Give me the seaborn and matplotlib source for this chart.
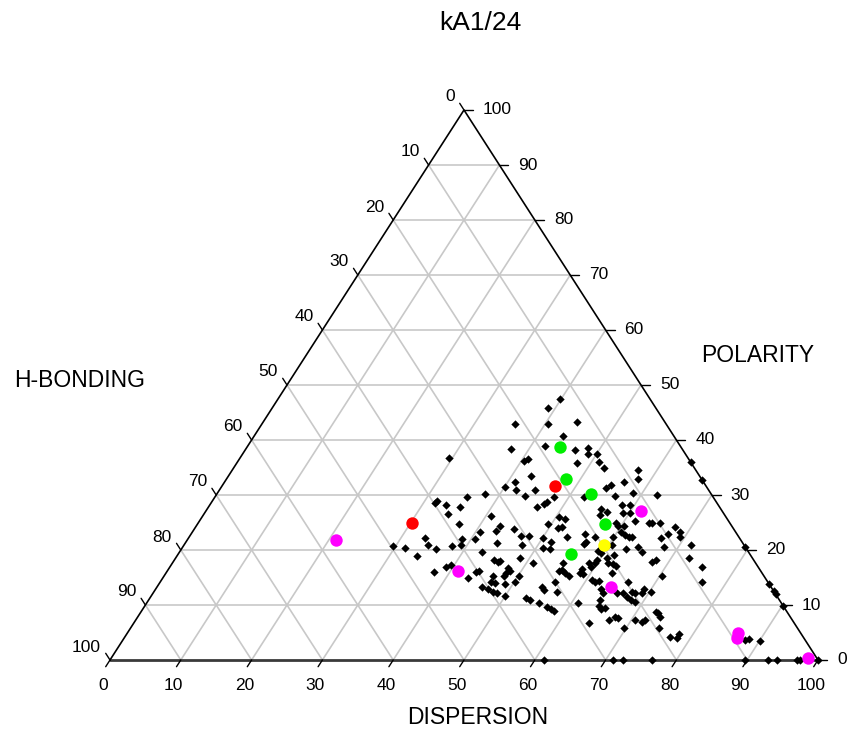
import matplotlib
matplotlib.use("Agg")
import matplotlib.pyplot as plt
import numpy as np
import pandas as pd
import seaborn as sns

sns.set_style("white")
plt.rcParams["font.family"] = ["Liberation Sans", "DejaVu Sans"]
plt.rcParams["text.color"] = "black"

TITLE = "kA1/24"
BOTTOM_NAME = "DISPERSION"
RIGHT_NAME = "POLARITY"
LEFT_NAME = "H-BONDING"
TICKS = list(range(0, 101, 10))

# black samples: dispersion / polarity (h-bonding = 100 - d - p)
black_d = [35.7, 37.5, 29.5, 40.4, 40.8, 42.7, 41.0, 40.1, 41.9, 43.7, 37.9, 35.6, 31.7, 31.6,
           33.3, 35.5, 34.5, 40.7, 36.9, 42.9, 42.8, 45.2, 46.8, 47.9, 40.7, 40.5, 44.1, 47.7,
           38.7, 39.1, 37.9, 36.0, 34.4, 33.4, 31.5, 29.6, 33.9, 37.7, 38.9, 39.5, 43.0, 43.7,
           44.1, 42.7, 45.1, 45.8, 46.1, 47.8, 48.5, 48.1, 48.1, 50.1, 50.2, 46.5, 46.7, 47.4,
           45.9, 46.9, 47.9, 48.6, 50.0, 48.9, 48.6, 50.9, 53.1, 53.8,
           39.9, 38.9, 40.4, 44.4, 43.6, 42.0, 46.6, 48.3, 48.8, 50.1, 48.0, 51.1, 52.3, 57.3,
           58.1, 56.4, 54.9, 54.4, 44.6, 52.1, 56.4, 47.8, 58.7, 62.3, 47.4, 47.1, 46.3, 55.6,
           56.7, 58.3, 59.4, 59.1, 60.1, 56.0, 50.4, 51.4, 61.6, 64.0, 63.7, 65.3, 67.8, 49.5,
           51.7, 51.3, 59.0, 59.6, 60.4,
           53.4, 55.6, 56.5, 56.4, 57.3, 60.6, 61.4, 62.1, 62.5, 59.9, 60.4, 59.9, 61.7, 62.8,
           64.3, 65.3, 66.8, 67.4, 69.3, 68.9, 68.0, 67.6, 68.0, 51.5, 52.1, 51.0, 50.0, 59.0,
           59.7, 59.7, 59.7, 60.9, 61.5, 62.4, 62.9, 63.0, 58.9, 59.5, 58.4, 58.5, 59.0, 55.2,
           55.6, 56.4, 57.2, 55.4, 55.7, 54.4, 55.0, 56.9, 60.8, 61.4, 61.8, 62.9, 63.6, 65.6,
           66.1, 66.4, 67.3, 67.5, 68.1, 68.1, 68.9, 69.1, 68.9, 70.2, 70.3, 55.4, 56.9, 57.7,
           58.2, 60.9, 63.8, 64.1, 64.8, 65.2, 66.9, 67.4, 68.0, 69.6, 64.2, 70.6, 71.7, 71.9,
           72.7, 73.2, 73.8, 74.6, 77.0, 78.1, 78.0,
           61.3, 71.0, 72.4, 76.5, 89.7, 93.0, 94.2, 97.0, 97.5, 100.0,
           64.0, 67.3, 71.6, 72.5, 75.2, 76.6, 79.4, 86.1, 87.5, 88.0, 90.1, 87.9, 88.3, 90.1]
black_p = [42.9, 38.3, 36.8, 36.2, 36.5, 33.5, 32.3, 31.4, 31.0, 29.9, 30.1, 29.7, 29.0, 28.6,
           28.2, 27.9, 26.6, 26.2, 24.7, 24.4, 23.5, 23.8, 22.6, 22.6, 23.2, 22.0, 21.2, 20.9,
           22.0, 20.9, 20.8, 20.1, 20.9, 22.1, 20.4, 20.7, 19.0, 16.0, 17.0, 17.3, 15.0, 16.0,
           16.1, 19.7, 18.2, 17.9, 18.0, 16.7, 16.1, 15.8, 15.2, 15.3, 14.1, 15.3, 14.2, 14.0,
           13.3, 13.0, 12.4, 12.1, 11.6, 13.8, 18.6, 17.6, 11.2, 11.0,
           47.4, 45.8, 43.0, 43.2, 40.8, 38.9, 38.1, 38.5, 37.5, 37.5, 35.9, 36.0, 35.0, 34.5,
           32.9, 32.3, 31.8, 31.3, 30.9, 29.7, 29.8, 29.7, 30.3, 30.0, 28.7, 28.4, 27.9, 27.4,
           26.9, 28.1, 28.1, 26.7, 26.7, 26.4, 26.0, 25.6, 25.2, 25.0, 24.9, 24.9, 24.1, 24.7,
           24.2, 24.0, 24.9, 24.4, 24.4,
           22.3, 22.9, 21.5, 21.1, 22.3, 23.2, 22.7, 22.3, 22.4, 22.3, 20.9, 20.7, 19.1, 20.1,
           20.6, 19.7, 22.1, 22.9, 22.3, 23.3, 20.5, 17.9, 18.1, 21.5, 20.1, 20.3, 22.2, 19.9,
           19.4, 18.2, 17.6, 18.5, 17.7, 17.4, 17.1, 15.9, 17.6, 17.0, 16.5, 15.8, 15.6, 17.6,
           16.4, 15.8, 15.2, 16.1, 14.2, 13.3, 12.7, 12.4, 14.6, 14.2, 14.4, 13.0, 12.1, 12.1,
           14.2, 12.1, 11.4, 12.4, 12.1, 10.9, 10.6, 12.2, 13.0, 12.4, 15.3, 10.3, 9.6, 9.2,
           8.9, 10.4, 10.9, 9.8, 9.2, 9.4, 7.2, 7.9, 7.6, 5.9, 6.8, 7.2, 7.0, 7.3,
           8.8, 8.5, 7.8, 5.8, 4.2, 4.0, 4.7,
           0, 0, 0, 0, 0, 0, 0, 0, 0, 0,
           36.0, 32.7, 20.9, 18.5, 16.9, 14.1, 20.6, 13.9, 12.5, 12.0, 9.9, 3.6, 3.8, 3.5]

magenta_d = [21.0, 41.1, 61.4, 64.1, 86.3, 86.5, 98.5]
magenta_p = [21.8, 16.2, 27.1, 13.2, 4.9, 4.0, 0.3]
red_d = [30.2, 47.0]
red_p = [24.9, 31.7]
green_d = [44.1, 47.9, 52.8, 57.6, 55.5]
green_p = [38.8, 33.0, 30.2, 24.7, 19.2]
yellow_d = [59.3]
yellow_p = [20.9]

# reference scale: pixels per unit across and per unit of height
SX, SY = 7.08, 5.5


def tern(d, p):
    d = np.asarray(d, dtype=float)
    p = np.asarray(p, dtype=float)
    return d + p / 2.0, p


def px(dx, dy):
    # pixel offset (x right, y down) -> data offset
    return dx / SX, -dy / SY


fig = plt.figure(figsize=(8.48, 7.29), dpi=100)
ax = fig.add_axes([0, 0, 1, 1])

grid_kw = dict(color="#c8c8c8", lw=1.2, zorder=1)
for v in TICKS[1:-1]:
    # constant polarity
    x, y = tern([0, 100 - v], [v, v])
    ax.plot(x, y, **grid_kw)
    # constant dispersion
    x, y = tern([v, v], [0, 100 - v])
    ax.plot(x, y, **grid_kw)
    # constant h-bonding
    x, y = tern([0, 100 - v], [100 - v, 0])
    ax.plot(x, y, **grid_kw)

# frame
x, y = tern([0, 100], [0, 0])
ax.plot(x, y, color="#3a3a3a", lw=2.0, zorder=2)
x, y = tern([100, 0, 0], [0, 100, 0])
ax.plot(x, y, color="black", lw=1.2, zorder=2)

tick_kw = dict(color="black", lw=1.0, zorder=2)
fs_tick = 12.5
for v in TICKS:
    # bottom (dispersion)
    bx, by = tern(v, 0)
    ddx, ddy = px(-4.3, 6.7)
    ax.plot([bx, bx + ddx], [by, by + ddy], **tick_kw)
    ox, oy = px(-7, 25)
    ax.text(bx + ox, by + oy, str(v), ha="center", va="center", fontsize=fs_tick)
    # right (polarity)
    rx, ry = tern(100 - v, v)
    ddx, _ = px(9, 0)
    ax.plot([rx, rx + ddx], [ry, ry], **tick_kw)
    ox, _ = px(19, 0)
    ax.text(rx + ox, ry, str(v), ha="left", va="center", fontsize=fs_tick)
    # left (h-bonding)
    lx, ly = tern(0, 100 - v)
    ddx, ddy = px(-4.3, -6.7)
    ax.plot([lx, lx + ddx], [ly, ly + ddy], **tick_kw)
    ox, oy = px(-9, -13)
    ax.text(lx + ox, ly + oy, str(v), ha="right", va="center", fontsize=fs_tick)

bx, by = tern(black_d, black_p)
sns.scatterplot(x=bx, y=by, ax=ax, color="black", marker="D", s=18,
                linewidth=0, zorder=4, legend=False)

groups = [
    (red_d, red_p, "#ff0000"),
    (green_d, green_p, "#00ee00"),
    (yellow_d, yellow_p, "#ffff00"),
    (magenta_d, magenta_p, "#ff00ff"),
]
for gd, gp, col in groups:
    gx, gy = tern(gd, gp)
    df = pd.DataFrame({"x": gx, "y": gy})
    sns.scatterplot(data=df, x="x", y="y", ax=ax, color=col, marker="o", s=80,
                    linewidth=0, zorder=5, legend=False)

ax.set_xlim(-110 / SX, (848 - 110) / SX)
ax.set_ylim(-(729 - 660) / SY, 660 / SY)
ax.axis("off")

fig.text(480 / 848, 1 - 23 / 729, TITLE, ha="center", va="center", fontsize=19)
fig.text(80 / 848, 1 - 381 / 729, LEFT_NAME, ha="center", va="center", fontsize=16.5)
fig.text(758 / 848, 1 - 355 / 729, RIGHT_NAME, ha="center", va="center", fontsize=16.5)
fig.text(478 / 848, 1 - 718 / 729, BOTTOM_NAME, ha="center", va="center", fontsize=16.5)

fig.savefig("out.png", dpi=100)
